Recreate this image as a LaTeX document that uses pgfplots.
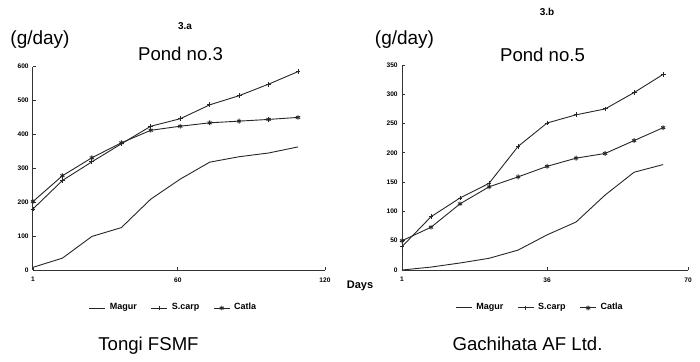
\documentclass[border=0pt]{standalone}
\usepackage{fontspec}
\setmainfont{Liberation Sans}
\usepackage{pgfplots}
\pgfplotsset{compat=1.18}
\begin{document}
\begin{tikzpicture}
\path[use as bounding box] (0,0) rectangle (350pt,-180.5pt);
\pgfplotsset{
  pond/.style={
    scale only axis,
    axis x line=bottom, axis y line=left,
    axis line style={-, black!80, line width=0.5pt},
    tick align=inside, major tick length=1.5pt,
    tick style={black!80, line width=0.4pt},
    ymin=0,
    clip=false,
    /pgf/number format/assume math mode=true,
    yticklabel style={font=\fontsize{3.3}{4}\selectfont\bfseries, inner sep=0.5pt, xshift=-1.5pt},
    xticklabel style={font=\fontsize{3.3}{4}\selectfont\bfseries, inner sep=0pt, yshift=-3.5pt},
    every axis plot/.append style={black!85, line width=0.45pt, mark size=1.2pt},
    legend columns=-1,
    legend style={draw=none, fill=none, font=\fontsize{4.5}{5}\selectfont\bfseries,
      /tikz/every even column/.append style={column sep=5pt}, inner sep=0pt},
    legend image code/.code={\draw[mark repeat=2,mark phase=2,#1] plot coordinates {(0pt,0pt)(4pt,0pt)(8pt,0pt)};},
  }
}
\begin{axis}[pond,
  at={(16.5pt,-135pt)}, anchor=south west,
  width=146pt, height=101.75pt,
  xmin=1, xmax=120, ymax=600,
  xtick={1,60,120}, ytick={0,100,...,600},
  legend style={at={(0.485,-0.187)}, anchor=center}]
\addplot[mark=none] coordinates {(1,8)(13,35)(25,99)(37,125)(49,209)(61,268)(73,318)(85,334)(97,345)(109,363)};
\addplot[mark=+] coordinates {(1,180)(13,264)(25,319)(37,372)(49,424)(61,446)(73,487)(85,514)(97,548)(109,585)};
\addplot[mark=asterisk] coordinates {(1,202)(13,278)(25,331)(37,375)(49,412)(61,424)(73,434)(85,439)(97,444)(109,450)};
\legend{Magur, S.carp, Catla}
\end{axis}
\begin{axis}[pond,
  at={(201pt,-135pt)}, anchor=south west,
  width=143pt, height=102.5pt,
  xmin=1, xmax=70, ymax=350,
  xtick={1,36,70}, ytick={0,50,...,350},
  legend style={at={(0.486,-0.185)}, anchor=center}]
\addplot[mark=none] coordinates {(1,0)(8,5)(15,12)(22,20)(29,34)(36,60)(43,82)(50,128)(57,167)(64,180)};
\addplot[mark=+] coordinates {(1,40)(8,91)(15,123)(22,148)(29,211)(36,251)(43,265)(50,275)(57,303)(64,334)};
\addplot[mark=asterisk] coordinates {(1,50)(8,73)(15,113)(22,142)(29,159)(36,177)(43,191)(50,199)(57,221)(64,243)};
\legend{Magur, S.carp, Catla}
\end{axis}
\node[anchor=base, font=\fontsize{9.5}{11}\selectfont] at (20pt,-22pt) {(g/day)};
\node[anchor=base, font=\fontsize{9.5}{11}\selectfont] at (202.25pt,-22pt) {(g/day)};
\node[anchor=center, font=\fontsize{5}{6}\selectfont\bfseries] at (92.5pt,-13.25pt) {3.a};
\node[anchor=center, font=\fontsize{5}{6}\selectfont\bfseries] at (273.5pt,-6pt) {3.b};
\node[anchor=base, font=\fontsize{9.3}{11}\selectfont] at (90.25pt,-30pt) {Pond no.3};
\node[anchor=base, font=\fontsize{9.3}{11}\selectfont] at (271.25pt,-30.5pt) {Pond no.5};
\node[anchor=base, font=\fontsize{5.5}{6}\selectfont\bfseries] at (180pt,-144pt) {Days};
\node[anchor=base, font=\fontsize{9.3}{11}\selectfont] at (74.25pt,-175pt) {Tongi FSMF};
\node[anchor=base, font=\fontsize{9.3}{11}\selectfont] at (263.75pt,-175pt) {Gachihata AF Ltd.};
\end{tikzpicture}
\end{document}
